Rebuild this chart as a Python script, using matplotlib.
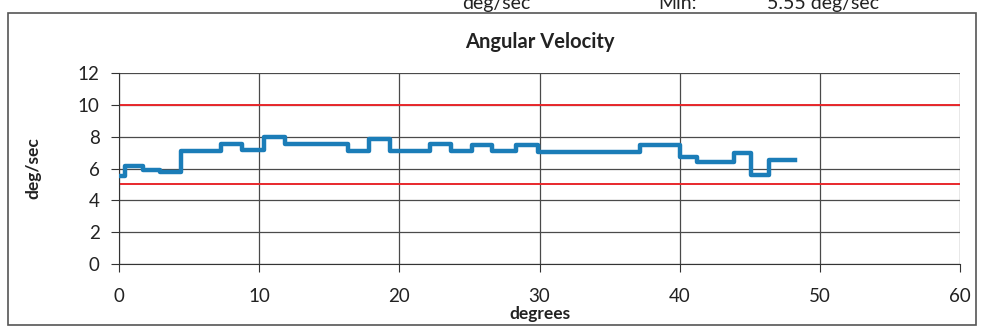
import matplotlib.pyplot as plt
from matplotlib.patches import Rectangle

# step edges (degrees) and angular velocity of each step (deg/sec)
x_edges = [0, 0.45, 1.7, 2.95, 4.45, 7.3, 8.75, 10.35, 11.85, 16.3, 17.85, 19.3,
           22.2, 23.7, 25.2, 26.6, 28.35, 29.9, 37.15, 40.0, 41.25, 43.9, 45.1,
           46.4, 48.2]
velocity = [5.55, 6.15, 5.93, 5.78, 7.13, 7.55, 7.15, 7.95, 7.55, 7.1, 7.87, 7.1,
            7.52, 7.08, 7.5, 7.08, 7.5, 7.05, 7.45, 6.75, 6.38, 7.0, 5.6, 6.55]
upper_limit = 10
lower_limit = 5

plt.rcParams['font.family'] = ['Lato', 'DejaVu Sans']

fig = plt.figure(figsize=(9.83, 3.34), dpi=100)
ax = fig.add_axes([0.1211, 0.2096, 0.8555, 0.5718])

# steps: repeat last value so the final segment gets drawn
ax.step(x_edges, velocity + [velocity[-1]], where='post', color='#1b7db8', lw=3.2, zorder=3)

ax.axhline(upper_limit, color='#e8282c', lw=1.4, zorder=2)
ax.axhline(lower_limit, color='#e8282c', lw=1.4, zorder=2)

ax.set_xlim(0, 60)
ax.set_ylim(0, 12)
ax.set_xticks(range(0, 61, 10))
ax.set_yticks(range(0, 13, 2))
ax.grid(True, color='#4a4a4a', lw=0.9)
ax.set_axisbelow(True)
for s in ['top', 'right']:
    ax.spines[s].set_visible(False)
ax.spines['left'].set_color('#333333')
ax.spines['bottom'].set_color('#333333')
ax.tick_params(axis='both', length=6, color='#333333', labelsize=13.5, labelcolor='#222222')
ax.tick_params(axis='x', pad=11)
ax.tick_params(axis='y', pad=8)

ax.set_title('Angular Velocity', fontsize=14.5, fontweight='bold', color='#222222', pad=18)
ax.set_xlabel('degrees', fontsize=12.5, fontweight='bold', color='#222222', labelpad=1)
ax.set_ylabel('deg/sec', fontsize=12.5, fontweight='bold', color='#222222', labelpad=26)

# chart frame
fig.patches.append(Rectangle((0.008, 0.027), 0.985, 0.934, transform=fig.transFigure,
                             fill=False, ec='#555555', lw=1.2))

# cut-off header text above the chart
fig.text(0.47, 0.99, 'deg/sec', fontsize=14, ha='left', va='center', color='#222222')
fig.text(0.67, 0.99, 'Min:', fontsize=14, ha='left', va='center', color='#222222')
fig.text(0.78, 0.99, '5.55 deg/sec', fontsize=14, ha='left', va='center', color='#222222')

fig.savefig('out.png', dpi=100)
